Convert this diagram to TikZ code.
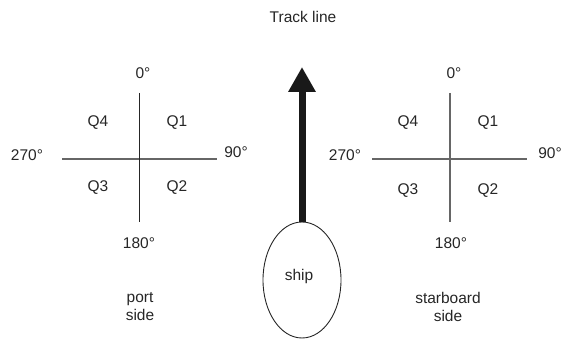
\documentclass[tikz,border=0pt]{standalone}
\usepackage{fontspec}
\setmainfont{Liberation Sans}
\usetikzlibrary{shapes.geometric,arrows.meta}
\begin{document}
\begin{tikzpicture}[x=1pt,y=-1pt,
  lbl/.style={inner sep=0pt,font=\fontsize{15.5}{18}\selectfont,text=black!85},
  axisgray/.style={draw=black!60,line width=1.3pt},
  axisdark/.style={draw=black!85,line width=1.2pt},
  shipnode/.style={ellipse,draw=black!85,line width=0.9pt,minimum width=78pt,minimum height=116pt,inner sep=0pt},
  trackarrow/.style={draw=black!90,line width=7pt,-{Triangle[length=25pt,width=26pt]}}]
\useasboundingbox (0,0) rectangle (565,339);
% title
\node[lbl] (track) at (303,17) {Track line};
% left cross (port)
\coordinate (LT) at (139.5,93);
\coordinate (LB) at (139.5,222);
\coordinate (LL) at (62,159);
\coordinate (LR) at (217,159);
\draw[axisgray] (LL) -- (LR);
\draw[axisdark] (LT) -- (LB);
\node[lbl] (l0) at (143,73) {0°};
\node[lbl] (l270) at (27,155) {270°};
\node[lbl] (l90) at (236,152) {90°};
\node[lbl] (l180) at (139,243) {180°};
\node[lbl] (lq4) at (98,123) {Q4};
\node[lbl] (lq1) at (177,123) {Q1};
\node[lbl] (lq3) at (98,188) {Q3};
\node[lbl] (lq2) at (177,188) {Q2};
\node[lbl,align=center] (port) at (140,307) {port\\side};
% right cross (starboard)
\coordinate (RT) at (450,93);
\coordinate (RB) at (450,222);
\coordinate (RL) at (372,159);
\coordinate (RR) at (527,159);
\draw[axisgray] (RL) -- (RR);
\draw[axisgray] (RT) -- (RB);
\node[lbl] (r0) at (454,73) {0°};
\node[lbl] (r270) at (345,155) {270°};
\node[lbl] (r90) at (550,153) {90°};
\node[lbl] (r180) at (451,243) {180°};
\node[lbl] (rq4) at (408,123) {Q4};
\node[lbl] (rq1) at (488,123) {Q1};
\node[lbl] (rq3) at (408,191) {Q3};
\node[lbl] (rq2) at (488,191) {Q2};
\node[lbl,align=center] (stbd) at (448,307) {starboard\\side};
% ship and track arrow
\node[shipnode] (ship) at (302,280) {};
\node[lbl] (shiptext) at (299,276) {ship};
\coordinate (tip) at (302,67);
\draw[trackarrow] (ship.north) -- (tip);
\end{tikzpicture}
\end{document}
